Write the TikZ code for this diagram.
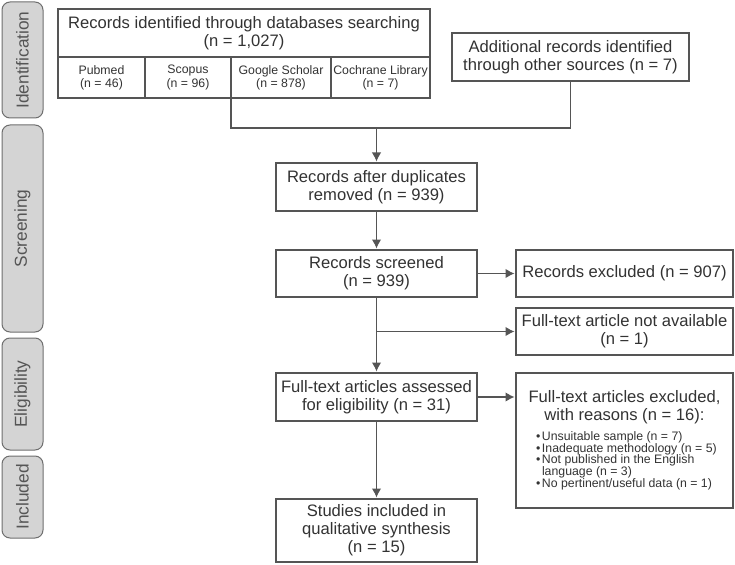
\documentclass[tikz,border=0pt]{standalone}
\usepackage{fontspec}
\setmainfont{Liberation Sans}
\usepackage{tikz}
\usetikzlibrary{arrows.meta,positioning}
\definecolor{linegray}{HTML}{555555}
\definecolor{txtgray}{HTML}{333333}
\definecolor{tabfill}{HTML}{D4D4D4}
\definecolor{tabline}{HTML}{6E6E6E}
\definecolor{tabtext}{HTML}{555555}
\tikzstyle{every node}=[font=\fontsize{16.6}{18}\selectfont,text=txtgray]
\tikzstyle{record}=[rectangle,
                    draw=linegray,
                    line width=1.2pt,
                    fill=white,
                    inner sep=0pt,
                    outer sep=0pt,
                    align=center,
                    minimum height=48pt]
\tikzstyle{source}=[record,
                    minimum height=41pt,
                    font=\fontsize{12.3}{13.3}\selectfont]
\tikzstyle{phase}=[rectangle,
                   rounded corners=8pt,
                   draw=tabline,
                   line width=1pt,
                   fill=tabfill,
                   text=tabtext,
                   rotate=90,
                   minimum height=41pt,
                   font=\fontsize{17.3}{18}\selectfont]
\tikzstyle{link}=[draw=linegray,line width=1.2pt,shorten >=1.5pt]
\newcommand{\bitem}{\makebox[6pt][l]{\textbullet}}

\begin{document}
\begin{tikzpicture}[x=1pt,y=-1pt,node distance=39pt,>={Latex[length=9pt,width=9.5pt]}]
\useasboundingbox (0,0) rectangle (735,564);
% phases
\node (T_id)  [phase,minimum width=116pt] at (22.5,60)    {Identification};
\node (T_scr) [phase,minimum width=207pt] at (22.5,228.5) {Screening};
\node (T_eli) [phase,minimum width=112pt] at (22.5,394)   {Eligibility};
\node (T_inc) [phase,minimum width=82pt]  at (22.5,497)   {Included};
% identification
\node (DB) [record,minimum width=372pt] at (244,33) {Records identified through databases searching\\(n = 1,027)};
\node (PM) [source,minimum width=87pt,below right=0pt and 0pt of DB.south west] {Pubmed\\(n = 46)};
\node (SC) [source,minimum width=86pt,right=0pt of PM] {Scopus\\(n = 96)};
\node (GS) [source,minimum width=100pt,right=0pt of SC] {Google Scholar\\(n = 878)};
\node (CL) [source,minimum width=99pt,right=0pt of GS] {Cochrane Library\\(n = 7)};
\node (AD) [record,minimum width=237pt] at (570.5,57) {Additional records identified\\through other sources (n = 7)};
% screening
\node (DU) [record,minimum width=201pt] at (376.5,187) {Records after duplicates\\removed (n = 939)};
\node (RS) [record,minimum width=201pt,minimum height=47pt,below=39pt of DU] {Records screened\\(n = 939)};
\node (RE) [record,minimum width=217pt,minimum height=47pt,right=of RS] {Records excluded (n = 907)};
\node (NA) [record,minimum width=217pt,minimum height=47pt,below=11pt of RE] {Full-text article not available\\(n = 1)};
% eligibility
\node (FA) [record,minimum width=201pt,below=76pt of RS] {Full-text articles assessed\\for eligibility (n = 31)};
\node (FE) [record,minimum width=217pt,minimum height=135pt,text width=200pt,align=flush left,
            right=of FA.north east,anchor=north west]
  {{\centering Full-text articles excluded,\\with reasons (n = 16):\par}
   \vspace{6pt}
   {\fontsize{12.3}{11.8}\selectfont\leftskip=11.5pt\parindent=0pt
   \bitem Unsuitable sample (n = 7)\par
   \bitem Inadequate methodology (n = 5)\par
   \bitem Not published in the English\par
   \hspace*{6pt}language (n = 3)\par
   \bitem No pertinent/useful data (n = 1)\par}};
% included
\node (SI) [record,minimum width=201pt,minimum height=63pt,below=78pt of FA] {Studies included in\\qualitative synthesis\\(n = 15)};
% connectors
\coordinate (merge) at (376.5,128);
\coordinate (split) at (RS.south |- NA.west);
\draw[link] (GS.south west) |- (merge) -| (AD.south);
\path[->] (merge) edge[link] (DU);
\path[->] (DU) edge[link] (RS);
\path[->] (RS) edge[link] (RE);
\path[->] (RS) edge[link] (FA);
\path[->] (split) edge[link] (NA);
\path[->] (FA.east) edge[link] (FA.east -| FE.west);
\path[->] (FA) edge[link] (SI);
\end{tikzpicture}
\end{document}
